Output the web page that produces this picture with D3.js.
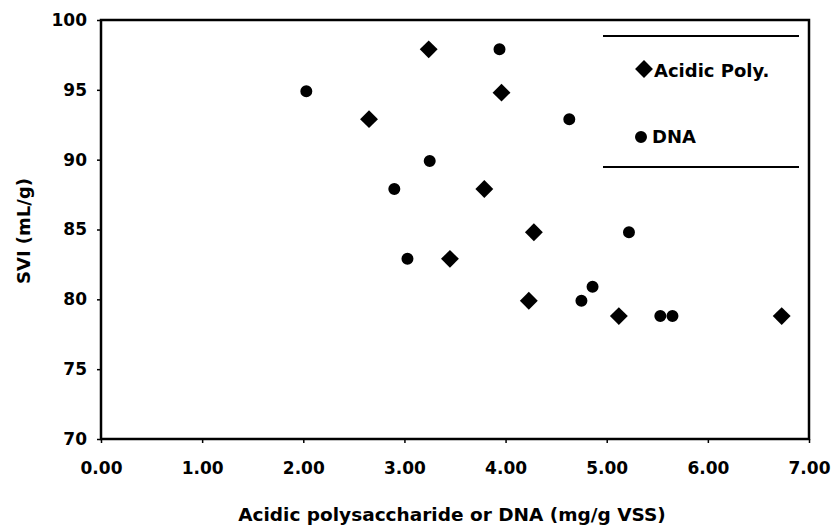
<!DOCTYPE html>
<html>
<head>
<meta charset="utf-8">
<script src="https://cdn.jsdelivr.net/npm/d3@7"></script>
<style>
  body { margin: 0; background: #fff; }
  text { font-family: "DejaVu Sans", "Liberation Sans", Arial, sans-serif; font-weight: bold; fill: #000; }
  .axis .domain { display: none; }
  .axis line { stroke: #000; stroke-width: 1.5; }
</style>
</head>
<body>
<svg id="chart"></svg>
<script>
// data
var polyX = [3.24, 3.96, 2.65, 3.79, 4.28, 3.45, 4.23, 5.12, 6.73],
    polyY = [97.9, 94.8, 92.9, 87.9, 84.8, 82.9, 79.9, 78.8, 78.8];
var dnaX = [2.03, 3.94, 4.63, 3.25, 2.90, 5.22, 3.03, 4.86, 4.75, 5.53, 5.65],
    dnaY = [94.9, 97.9, 92.9, 89.9, 87.9, 84.8, 82.9, 80.9, 79.9, 78.8, 78.8];
var xTicks = [0, 1, 2, 3, 4, 5, 6, 7],
    yTicks = [70, 75, 80, 85, 90, 95, 100];
var seriesNames = ['Acidic Poly.', 'DNA'];

var margin = {top: 20, right: 22, bottom: 89, left: 101},
    width = 831 - margin.left - margin.right,
    height = 528 - margin.top - margin.bottom;

var svg = d3.select('#chart')
    .attr('width', 831)
    .attr('height', 528);

var g = svg.append('g')
    .attr('transform', 'translate(' + margin.left + ',' + margin.top + ')');

var x = d3.scaleLinear().domain([0, 7]).range([0, width]),
    y = d3.scaleLinear().domain([70, 100]).range([height, 0]);

// axes
g.append('g')
    .attr('class', 'axis')
    .attr('transform', 'translate(0,' + height + ')')
    .call(d3.axisBottom(x).tickValues(xTicks).tickFormat(d3.format('.2f')).tickSize(4).tickPadding(19))
    .selectAll('text')
      .style('font-size', '17px');

g.append('g')
    .attr('class', 'axis')
    .call(d3.axisLeft(y).tickValues(yTicks).tickSize(4).tickPadding(10))
    .selectAll('text')
      .style('font-size', '17px');

// frame
g.append('rect')
    .attr('width', width)
    .attr('height', height)
    .attr('fill', 'none')
    .attr('stroke', '#000')
    .attr('stroke-width', 2.5);

// axis titles
svg.append('text')
    .attr('x', 452)
    .attr('y', 521)
    .attr('text-anchor', 'middle')
    .style('font-size', '18.5px')
    .text('Acidic polysaccharide or DNA (mg/g VSS)');

svg.append('text')
    .attr('transform', 'translate(30,231) rotate(-90)')
    .attr('text-anchor', 'middle')
    .style('font-size', '18px')
    .text('SVI (mL/g)');

var diamond = d3.symbol().type(d3.symbolSquare).size(160),
    dot = d3.symbol().type(d3.symbolCircle).size(113);

var polyData = polyX.map(function(d, i) { return {x: d, y: polyY[i]}; }),
    dnaData = dnaX.map(function(d, i) { return {x: d, y: dnaY[i]}; });

g.selectAll('.poly')
    .data(polyData)
  .enter().append('path')
    .attr('class', 'poly')
    .attr('d', diamond)
    .attr('transform', function(d) { return 'translate(' + x(d.x) + ',' + y(d.y) + ') rotate(45)'; })
    .attr('fill', '#000');

g.selectAll('.dna')
    .data(dnaData)
  .enter().append('path')
    .attr('class', 'dna')
    .attr('d', dot)
    .attr('transform', function(d) { return 'translate(' + x(d.x) + ',' + y(d.y) + ')'; })
    .attr('fill', '#000');

// legend (only the top and bottom rules survive in the scan)
var leg = svg.append('g');
leg.append('line').attr('x1', 603).attr('x2', 799).attr('y1', 36).attr('y2', 36)
    .attr('stroke', '#000').attr('stroke-width', 2);
leg.append('line').attr('x1', 603).attr('x2', 799).attr('y1', 167).attr('y2', 167)
    .attr('stroke', '#000').attr('stroke-width', 2);

leg.append('path')
    .attr('d', diamond)
    .attr('transform', 'translate(644,69) rotate(45)');
leg.append('text').attr('x', 654).attr('y', 77).style('font-size', '18px').text(seriesNames[0]);

leg.append('path')
    .attr('d', dot)
    .attr('transform', 'translate(641,137)');
leg.append('text').attr('x', 652).attr('y', 143).style('font-size', '18px').text(seriesNames[1]);
</script>
</body>
</html>
